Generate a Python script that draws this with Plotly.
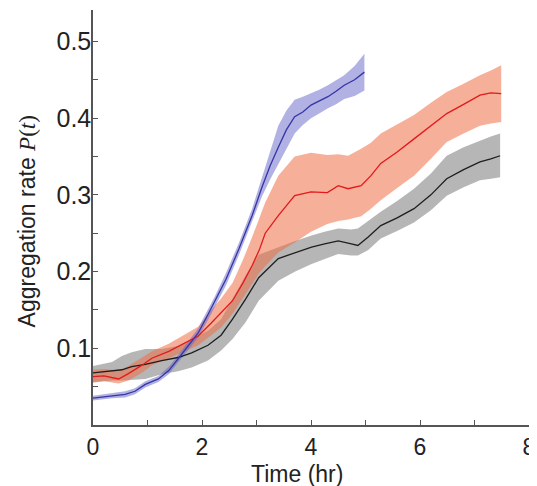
import plotly.graph_objects as go

# ---------------- data ----------------
t_blue = [0, 0.35, 0.59, 0.77, 0.96, 1.2, 1.39, 1.56, 1.75, 1.93, 2.11, 2.23, 2.44, 2.68,
          2.92, 3.1, 3.25, 3.4, 3.55, 3.7, 3.85, 4.0, 4.15, 4.31, 4.46, 4.61, 4.8, 4.98]
mean_blue = [0.035, 0.038, 0.04, 0.044, 0.053, 0.06, 0.071, 0.086, 0.103, 0.12, 0.144, 0.16, 0.19, 0.23,
             0.273, 0.31, 0.338, 0.362, 0.385, 0.402, 0.408, 0.417, 0.422, 0.428, 0.435, 0.443, 0.45, 0.46]
lo_blue = [0.032, 0.035, 0.036, 0.04, 0.049, 0.056, 0.066, 0.081, 0.097, 0.114, 0.137, 0.153, 0.182, 0.222,
           0.264, 0.298, 0.32, 0.34, 0.36, 0.38, 0.391, 0.4, 0.406, 0.413, 0.418, 0.425, 0.429, 0.436]
hi_blue = [0.038, 0.041, 0.044, 0.048, 0.057, 0.064, 0.076, 0.091, 0.109, 0.126, 0.151, 0.167, 0.198, 0.238,
           0.282, 0.322, 0.358, 0.39, 0.41, 0.424, 0.428, 0.432, 0.437, 0.443, 0.449, 0.456, 0.468, 0.484]

t_red = [0, 0.2, 0.47, 0.65, 0.9, 1.08, 1.39, 1.69, 1.93, 2.17, 2.35, 2.56, 2.75, 2.92, 3.05, 3.16, 3.4,
         3.7, 4.0, 4.3, 4.5, 4.68, 4.92, 5.1, 5.28, 5.58, 5.89, 6.2, 6.49, 6.8, 7.1, 7.3, 7.49]
mean_red = [0.063, 0.064, 0.06, 0.067, 0.078, 0.087, 0.096, 0.107, 0.116, 0.133, 0.146, 0.162, 0.185, 0.208,
            0.228, 0.25, 0.273, 0.299, 0.304, 0.303, 0.312, 0.308, 0.312, 0.325, 0.341, 0.356, 0.373, 0.39,
            0.406, 0.418, 0.43, 0.433, 0.432]
lo_red = [0.055, 0.057, 0.054, 0.058, 0.068, 0.078, 0.087, 0.097, 0.104, 0.117, 0.127, 0.145, 0.165, 0.183,
          0.198, 0.207, 0.225, 0.238, 0.252, 0.262, 0.266, 0.268, 0.272, 0.282, 0.293, 0.309, 0.325, 0.347,
          0.369, 0.38, 0.39, 0.393, 0.395]
hi_red = [0.072, 0.073, 0.071, 0.077, 0.088, 0.096, 0.106, 0.118, 0.128, 0.15, 0.165, 0.185, 0.215, 0.245,
          0.268, 0.29, 0.325, 0.35, 0.355, 0.352, 0.353, 0.351, 0.36, 0.368, 0.38, 0.392, 0.404, 0.42,
          0.434, 0.445, 0.456, 0.462, 0.469]

t_black = [0, 0.35, 0.53, 0.71, 0.96, 1.26, 1.56, 1.81, 2.11, 2.35, 2.56, 2.8, 3.04, 3.4, 3.71, 4.01,
           4.25, 4.5, 4.74, 4.86, 5.05, 5.28, 5.58, 5.89, 6.2, 6.49, 6.8, 7.1, 7.3, 7.47]
mean_black = [0.068, 0.071, 0.072, 0.076, 0.079, 0.084, 0.088, 0.094, 0.104, 0.117, 0.138, 0.164, 0.192,
              0.217, 0.225, 0.232, 0.236, 0.24, 0.236, 0.234, 0.245, 0.26, 0.27, 0.282, 0.3, 0.321, 0.333,
              0.343, 0.347, 0.351]
lo_black = [0.056, 0.058, 0.058, 0.059, 0.06, 0.066, 0.07, 0.075, 0.084, 0.097, 0.112, 0.134, 0.162, 0.188,
            0.2, 0.21, 0.216, 0.223, 0.221, 0.221, 0.228, 0.243, 0.253, 0.264, 0.28, 0.299, 0.31, 0.319,
            0.321, 0.323]
hi_black = [0.077, 0.082, 0.09, 0.095, 0.099, 0.099, 0.103, 0.112, 0.123, 0.138, 0.165, 0.195, 0.222,
            0.232, 0.24, 0.247, 0.252, 0.256, 0.255, 0.256, 0.266, 0.278, 0.292, 0.308, 0.328, 0.351,
            0.362, 0.371, 0.376, 0.38]

x_ticks = [0, 2, 4, 6, 8]
x_minor = [1, 3, 5, 7]
y_ticks = [0.1, 0.2, 0.3, 0.4, 0.5]
y_tick_labels = ["0.1", "0.2", "0.3", "0.4", "0.5"]
y_minor = [0.05, 0.15, 0.25, 0.35, 0.45]

# ---------------- figure ----------------
FONT = "Liberation Sans, Arial, sans-serif"
AX = "#555555"

series = [
    (t_black, mean_black, lo_black, hi_black, "rgba(110,110,110,0.5)", "#1e1e1e"),
    (t_red, mean_red, lo_red, hi_red, "rgba(238,110,70,0.55)", "#e3191c"),
    (t_blue, mean_blue, lo_blue, hi_blue, "rgba(100,100,200,0.5)", "#3535a5"),
]

fig = go.Figure()
for t, m, lo, hi, fc, lc in series:
    fig.add_trace(go.Scatter(x=t, y=lo, mode="lines", line=dict(width=0, color=fc),
                             showlegend=False, hoverinfo="skip"))
    fig.add_trace(go.Scatter(x=t, y=hi, mode="lines", line=dict(width=0, color=fc),
                             fill="tonexty", fillcolor=fc, showlegend=False, hoverinfo="skip"))
for t, m, lo, hi, fc, lc in series:
    fig.add_trace(go.Scatter(x=t, y=m, mode="lines", line=dict(width=1.3, color=lc),
                             showlegend=False))

# the page body has an 8px margin, so the figure is sized to end at the window edge
fig.update_layout(
    width=529, height=478,
    margin=dict(l=85, r=4, t=2, b=61),
    paper_bgcolor="white", plot_bgcolor="white",
    font=dict(family=FONT, color="#222222"),
    showlegend=False,
    xaxis=dict(
        range=[0, 8], showgrid=False, zeroline=False,
        showline=True, linecolor=AX, linewidth=1.5,
        ticks="inside", ticklen=5, tickcolor=AX, tickwidth=1,
        tickvals=x_ticks, tickfont=dict(size=23, family=FONT, color="#222222"),
        ticklabelstandoff=1, ticklabeloverflow="allow",
        minor=dict(tickvals=x_minor, ticks="inside", ticklen=5, tickcolor=AX, showgrid=False),
    ),
    yaxis=dict(
        range=[0, 0.541], showgrid=False, zeroline=False,
        showline=True, linecolor=AX, linewidth=1.5,
        ticks="inside", ticklen=5, tickcolor=AX, tickwidth=1,
        tickvals=y_ticks, ticktext=y_tick_labels,
        tickfont=dict(size=25, family=FONT, color="#222222"),
        ticklabelstandoff=-5,
        minor=dict(tickvals=y_minor, ticks="inside", ticklen=5, tickcolor=AX, showgrid=False),
    ),
    annotations=[
        dict(text="Time (hr)", xref="paper", yref="paper", x=0.468, y=-0.118,
             xanchor="center", yanchor="middle", showarrow=False,
             font=dict(size=23, family=FONT, color="#222222")),
        dict(text="Aggregation rate <span style='font-family:Liberation Serif, Times New Roman, serif'><i>P</i>(<i>t</i>)</span>",
             xref="paper", yref="paper", x=-0.152, y=0.49, textangle=-90,
             xanchor="center", yanchor="middle", showarrow=False,
             font=dict(size=23, family=FONT, color="#222222")),
    ],
)

fig.write_html("out.html")
